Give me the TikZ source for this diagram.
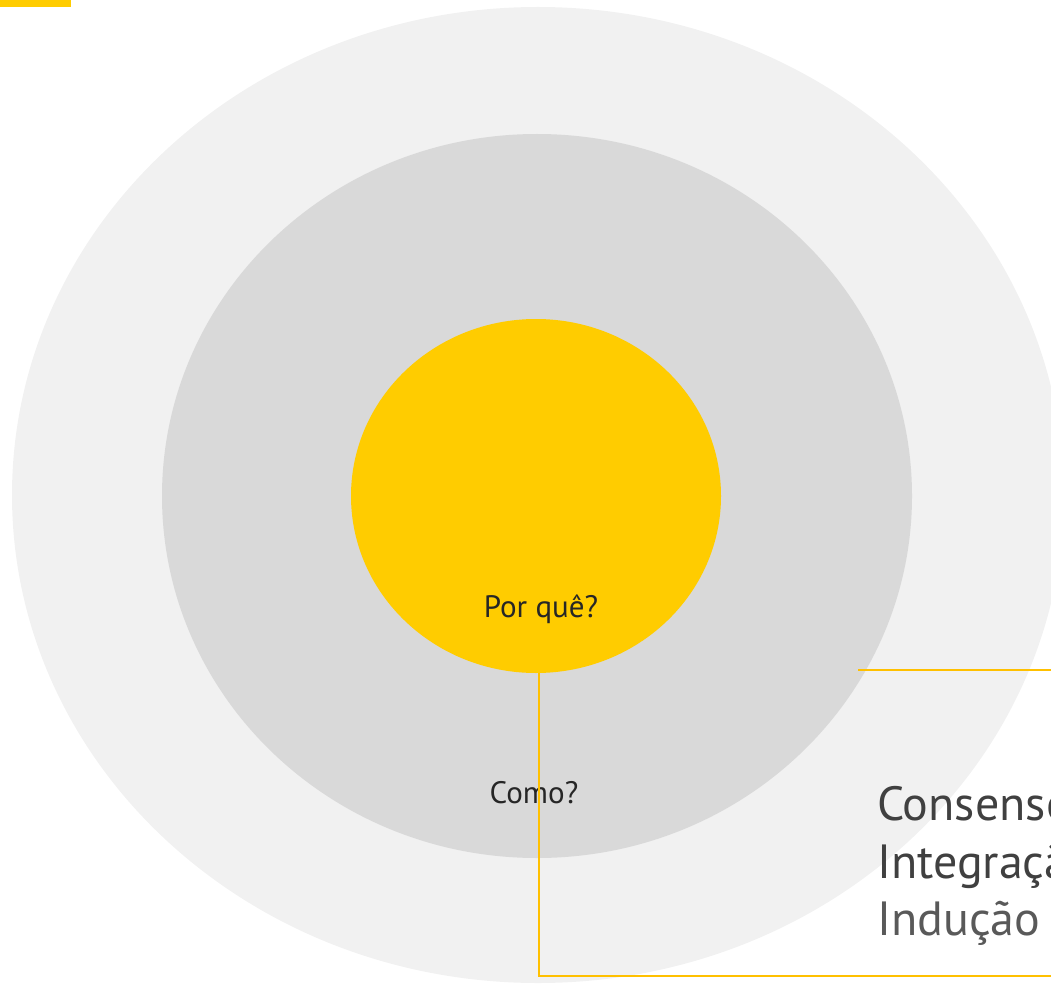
\documentclass[tikz,border=0pt]{standalone}
\usepackage{fontspec}
\setmainfont{PT Sans}
\usetikzlibrary{calc,shapes.geometric}
\definecolor{ringlight}{HTML}{F1F1F1}
\definecolor{ringmid}{HTML}{D9D9D9}
\definecolor{coreyellow}{HTML}{FFCC00}
\definecolor{lineyellow}{HTML}{FFC000}
\definecolor{txtdark}{HTML}{262626}
\definecolor{txtmid}{HTML}{404040}
\definecolor{txtlight}{HTML}{595959}
\tikzset{
  ring/.style={ellipse, inner sep=0pt, draw=none},
  connector/.style={draw=lineyellow, line width=2.4pt},
  smalltxt/.style={font=\fontsize{31}{35}\selectfont, text=txtdark, inner sep=0pt},
  bigtxt/.style={font=\fontsize{48}{57}\selectfont, inner sep=0pt, anchor=base west},
}
\begin{document}
\begin{tikzpicture}[x=1pt,y=-1pt]
\useasboundingbox (0,0) rectangle (1051,984);
\clip (0,0) rectangle (1051,984);
\fill[coreyellow] (0,0) rectangle (71,7);
\node[ring, fill=ringlight, minimum width=1052pt, minimum height=976pt] (outer) at (538,495) {};
\node[ring, fill=ringmid, minimum width=750pt, minimum height=724pt] (middle) at (537,496) {};
\node[ring, fill=coreyellow, minimum width=370pt, minimum height=354pt] (inner) at (536,496) {};
\node[smalltxt] (why) at (541,609) {Por quê?};
\node[smalltxt] (how) at (534,793) {Como?};
\coordinate (vtop) at (539,673);
\coordinate (hstart) at (858,670);
\coordinate (hend) at (1060,670);
\coordinate (corner) at (539,976);
\coordinate (bend) at (1060,976);
\draw[connector] (hstart) -- (hend);
\draw[connector] (vtop) -- (corner) -- (bend);
\node[bigtxt, text=txtmid] (cons) at (877,820) {Consenso};
\node[bigtxt, text=txtmid] (integ) at (877,878) {Integração};
\node[bigtxt, text=txtlight] (indu) at (877,935) {Indução};
\end{tikzpicture}
\end{document}
